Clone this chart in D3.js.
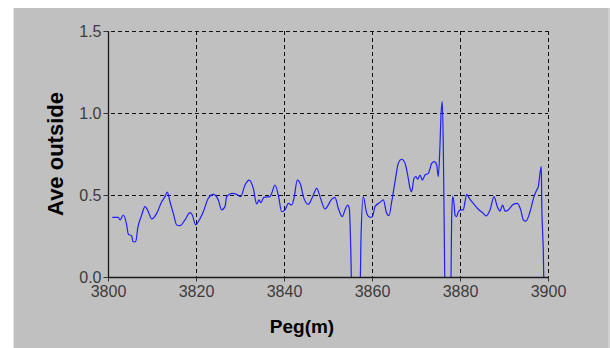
<!DOCTYPE html>
<html>
<head>
<meta charset="utf-8">
<script src="https://cdn.jsdelivr.net/npm/d3@7"></script>
<style>
  body { margin: 0; background: #fff; }
  svg { display: block; }
</style>
</head>
<body>
<div id="chart"></div>
<script>
// values
let peg = [3800.98, 3802.34, 3802.73, 3803.48, 3804.25, 3804.61, 3805.39, 3805.68, 3806.30, 3806.75,
    3807.66, 3808.41, 3809.16, 3809.93, 3811.07, 3812.20, 3812.95, 3813.48, 3814.09, 3814.84,
    3815.61, 3816.36, 3817.50, 3818.64, 3819.16, 3819.93, 3820.52, 3821.66, 3822.80, 3823.93,
    3825.07, 3825.84, 3826.59, 3826.98, 3828.11, 3829.25, 3830.16, 3831.14, 3832.11, 3833.02,
    3833.80, 3834.32, 3834.70, 3835.45, 3836.82, 3837.20, 3837.95, 3838.70, 3839.48, 3840.23,
    3840.98, 3841.75, 3842.27, 3843.02, 3843.80, 3844.39, 3845.52, 3846.52, 3847.43, 3848.18,
    3849.32, 3850.84, 3851.59, 3852.34, 3853.25, 3853.86, 3854.48, 3854.84, 3855.23, 3855.39,
    3857.27, 3857.50, 3858.02, 3858.80, 3859.55, 3860.07, 3860.68, 3861.82, 3862.57, 3863.34,
    3863.86, 3864.48, 3865.23, 3865.98, 3866.75, 3867.50, 3868.11, 3868.64, 3869.02, 3869.55,
    3870.00, 3870.39, 3870.91, 3871.43, 3872.05, 3872.80, 3873.57, 3874.16, 3874.70, 3875.07,
    3875.45, 3875.68, 3875.98, 3876.20, 3876.43, 3876.59, 3877.89, 3878.11, 3878.34, 3878.64,
    3878.86, 3879.25, 3879.61, 3880.16, 3880.75, 3881.14, 3881.52, 3882.11, 3883.02, 3884.16,
    3885.30, 3885.91, 3886.82, 3887.73, 3888.48, 3889.09, 3889.70, 3890.23, 3890.98, 3892.11,
    3893.02, 3893.80, 3894.39, 3895.00, 3895.91, 3896.82, 3897.43, 3897.80, 3898.18, 3898.48,
    3898.57, 3898.80, 3898.93, 3899.09];

let aveOutside = [0.364, 0.364, 0.348, 0.378, 0.317, 0.262, 0.250, 0.215, 0.215, 0.297,
    0.378, 0.429, 0.398, 0.354, 0.388, 0.459, 0.490, 0.518, 0.459, 0.388,
    0.317, 0.313, 0.348, 0.392, 0.378, 0.317, 0.337, 0.398, 0.480, 0.504,
    0.470, 0.409, 0.429, 0.490, 0.510, 0.504, 0.490, 0.561, 0.591, 0.541,
    0.445, 0.470, 0.453, 0.486, 0.490, 0.510, 0.561, 0.500, 0.398, 0.409,
    0.449, 0.439, 0.480, 0.591, 0.561, 0.490, 0.443, 0.490, 0.541, 0.490,
    0.415, 0.474, 0.486, 0.419, 0.368, 0.409, 0.439, 0.419, 0.104, -0.1,
    -0.1, 0.236, 0.490, 0.388, 0.364, 0.368, 0.429, 0.455, 0.470, 0.388,
    0.374, 0.459, 0.581, 0.693, 0.718, 0.693, 0.622, 0.541, 0.520, 0.602,
    0.612, 0.596, 0.622, 0.591, 0.622, 0.632, 0.693, 0.703, 0.683, 0.612,
    0.805, 0.988, 1.069, 0.805, 0.256, -0.1, -0.1, 0.358, 0.490, 0.449,
    0.378, 0.368, 0.398, 0.409, 0.409, 0.459, 0.504, 0.480, 0.449, 0.413,
    0.388, 0.372, 0.409, 0.490, 0.429, 0.402, 0.439, 0.402, 0.409, 0.443,
    0.449, 0.409, 0.348, 0.341, 0.398, 0.490, 0.530, 0.551, 0.632, 0.673,
    0.470, 0.256, 0.165, -0.1];

let xTicks = [3800, 3820, 3840, 3860, 3880, 3900];
let yTicks = [0.0, 0.5, 1.0, 1.5];

let width = 610, height = 348;
let plot = {left: 108, right: 548, top: 31, bottom: 277};

let svg = d3.select("#chart").append("svg")
    .attr("width", width)
    .attr("height", height);

// grey panel
svg.append("rect")
    .attr("x", 13).attr("y", 8)
    .attr("width", 1).attr("height", height - 8)
    .style("fill", "#e4e4e4");
svg.append("rect")
    .attr("x", 14).attr("y", 8)
    .attr("width", 594).attr("height", height - 8)
    .style("fill", "#c0c0c0");
svg.append("rect")
    .attr("x", 608).attr("y", 8)
    .attr("width", 2).attr("height", height - 8)
    .style("fill", "#d0d0d0");

let x = d3.scaleLinear().domain([3800, 3900]).range([plot.left, plot.right]);
let y = d3.scaleLinear().domain([0, 1.5]).range([plot.bottom, plot.top]);

// dashed grid
svg.selectAll()
    .data(xTicks.slice(1))
    .enter()
    .append("line")
    .attr("x1", d => Math.round(x(d)) + 0.5)
    .attr("x2", d => Math.round(x(d)) + 0.5)
    .attr("y1", plot.top)
    .attr("y2", plot.bottom + 4)
    .style("stroke", "#111")
    .style("stroke-dasharray", "4,3");

svg.selectAll()
    .data(yTicks.slice(1))
    .enter()
    .append("line")
    .attr("x1", plot.left - 4)
    .attr("x2", plot.right)
    .attr("y1", d => Math.round(y(d)) + 0.5)
    .attr("y2", d => Math.round(y(d)) + 0.5)
    .style("stroke", "#111")
    .style("stroke-dasharray", "4,3");

// line, clipped to the plot
svg.append("clipPath").attr("id", "clip")
    .append("rect")
    .attr("x", plot.left).attr("y", plot.top - 10)
    .attr("width", plot.right - plot.left).attr("height", plot.bottom - plot.top + 10);

let points = peg.map((p, i) => [p, aveOutside[i]]);
svg.append("path")
    .datum(points)
    .attr("clip-path", "url(#clip)")
    .attr("d", d3.line().curve(d3.curveMonotoneX).x(d => x(d[0])).y(d => y(d[1])))
    .style("fill", "none")
    .style("stroke", "#1e1eff")
    .style("stroke-width", 1.2);

// solid axes
let xAxis = svg.append("g")
    .attr("transform", "translate(0," + (plot.bottom + 0.5) + ")")
    .call(d3.axisBottom(x).tickValues(xTicks).tickSize(4).tickPadding(4).tickFormat(d3.format("d")));
let yAxis = svg.append("g")
    .attr("transform", "translate(" + (plot.left + 0.5) + ",0)")
    .call(d3.axisLeft(y).tickValues(yTicks).tickSize(5).tickPadding(2).tickFormat(d3.format(".1f")));

[xAxis, yAxis].forEach(function (g) {
    g.select(".domain").style("stroke", "#1a1a1a").attr("stroke-width", 1.3);
    g.selectAll(".tick line").style("stroke", "#333");
    g.selectAll(".tick text")
        .style("fill", "#3c3c3c")
        .style("font-family", "Liberation Sans, Arial, sans-serif")
        .style("font-size", "16px");
});
xAxis.select(".domain").attr("d", "M" + plot.left + ",0H" + plot.right);
yAxis.select(".domain").attr("d", "M0," + plot.top + "V" + plot.bottom);
yAxis.selectAll(".tick text").attr("dy", "0.36em");

// axis titles
svg.append("text")
    .attr("x", 302)
    .attr("y", 333)
    .attr("text-anchor", "middle")
    .style("font-family", "Liberation Sans, Arial, sans-serif")
    .style("font-weight", "bold")
    .style("font-size", "19px")
    .style("fill", "#000")
    .text("Peg(m)");

svg.append("text")
    .attr("transform", "translate(63,154) rotate(-90)")
    .attr("text-anchor", "middle")
    .style("font-family", "Liberation Sans, Arial, sans-serif")
    .style("font-weight", "bold")
    .style("font-size", "22px")
    .style("fill", "#000")
    .text("Ave outside");
</script>
</body>
</html>
